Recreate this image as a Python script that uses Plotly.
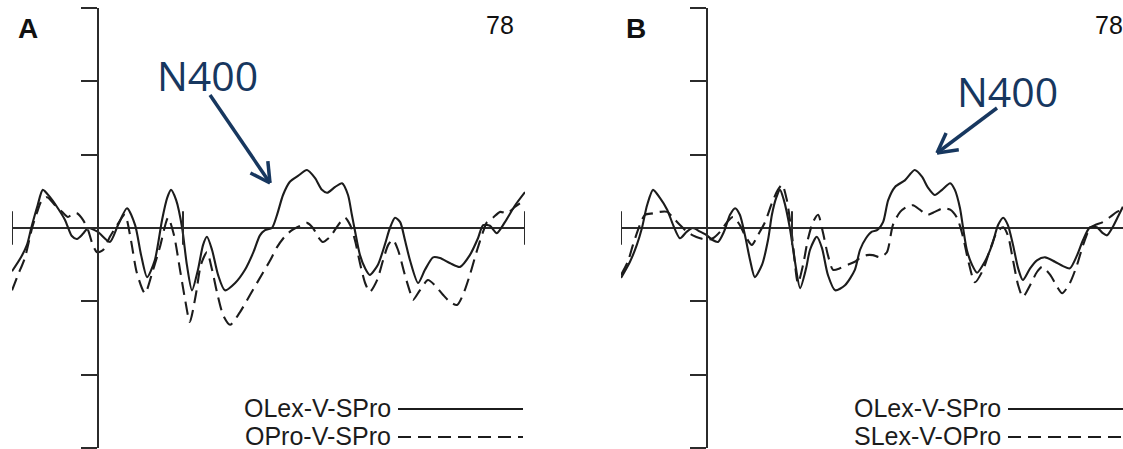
import math
import plotly.graph_objects as go

# ---------------------------------------------------------------
# Grand-average ERP waveforms (electrode 78), negative plotted up.
# Time in ms relative to onset, amplitude in µV.
# ---------------------------------------------------------------

# Panel A: OLex-V-SPro (solid)
t_a_olex = [-200, -180, -165, -155, -140, -128, -111, -95, -76, -60, -48, -34, -22, 0,
            29, 48, 69, 88, 102, 116, 134, 151, 163, 172, 184, 198, 209, 221, 235, 247,
            256, 268, 282, 298, 322, 345, 364, 380, 392, 408, 420, 434, 450, 469, 490,
            509, 525, 537, 556, 572, 586, 595, 602, 614, 626, 637, 656, 672, 684, 696,
            708, 719, 731, 750, 766, 785, 801, 825, 848, 871, 890, 902, 918, 934, 953,
            977, 1000]
v_a_olex = [0.59, 0.41, 0.23, 0.00, -0.31, -0.52, -0.42, -0.29, -0.11, 0.11, 0.15, 0.08, 0.00, 0.05,
            0.19, -0.04, -0.27, -0.04, 0.37, 0.67, 0.44, -0.11, -0.41, -0.52, -0.38, 0.00, 0.50, 0.85, 0.57, 0.23,
            0.12, 0.30, 0.64, 0.85, 0.75, 0.57, 0.34, 0.10, 0.03, 0.00, -0.18, -0.45, -0.63, -0.71, -0.79,
            -0.68, -0.52, -0.48, -0.56, -0.61, -0.45, -0.18, 0.03, 0.37, 0.55, 0.64, 0.50, 0.23, 0.00, -0.14,
            -0.08, 0.16, 0.44, 0.75, 0.57, 0.40, 0.41, 0.48, 0.53, 0.37, 0.14, -0.04, -0.03, 0.07, -0.08,
            -0.31, -0.49]

# Panel A: OPro-V-SPro (dashed)
t_a_opro = [-200, -186, -170, -153, -141, -130, -118, -99, -83, -69, -57, -48, -34, -22, -11, -1,
            13, 29, 46, 64, 78, 92, 111, 130, 146, 165, 179, 193, 205, 216, 230, 242,
            256, 268, 280, 294, 310, 333, 357, 387, 404, 420, 439, 455, 474, 490, 504,
            516, 527, 544, 563, 579, 591, 602, 614, 626, 637, 654, 668, 680, 691, 703,
            719, 731, 738, 754, 773, 789, 808, 825, 841, 855, 871, 888, 902, 911, 925,
            942, 958, 977, 1000]
v_a_opro = [0.85, 0.64, 0.41, 0.00, -0.22, -0.38, -0.42, -0.31, -0.22, -0.15, -0.20, -0.20, -0.11, 0.03, 0.23, 0.33,
            0.30, 0.12, -0.04, -0.18, 0.16, 0.61, 0.89, 0.57, 0.26, -0.14, 0.10, 0.57, 0.98, 1.28, 0.91, 0.50,
            0.33, 0.57, 0.89, 1.19, 1.32, 1.15, 0.91, 0.61, 0.44, 0.26, 0.11, 0.03, -0.03, -0.07, 0.00,
            0.12, 0.19, 0.12, -0.04, -0.14, -0.04, 0.16, 0.48, 0.75, 0.87, 0.71, 0.44, 0.23, 0.16, 0.30,
            0.64, 0.87, 0.98, 0.85, 0.71, 0.78, 0.91, 1.01, 1.05, 0.91, 0.64, 0.30, 0.05, -0.08, -0.14,
            -0.22, -0.20, -0.29, -0.38]

# Panel B: OLex-V-SPro (solid)
t_b_olex = [-200, -179, -163, -151, -139, -125, -109, -92, -78, -62, -46, -32, -15, 1,
            13, 27, 41, 55, 67, 78, 90, 102, 113, 130, 144, 153, 163, 172, 181, 195,
            207, 219, 233, 242, 258, 270, 284, 301, 324, 347, 359, 373, 387, 399, 413,
            425, 441, 464, 487, 504, 518, 534, 551, 570, 581, 593, 600, 609, 621, 633,
            651, 668, 682, 694, 705, 717, 729, 740, 757, 773, 792, 815, 834, 850, 867,
            881, 897, 913, 927, 937, 949, 963, 974]
v_b_olex = [0.68, 0.46, 0.23, 0.00, -0.31, -0.52, -0.41, -0.25, -0.04, 0.14, 0.05, 0.00, 0.05, 0.10,
            0.16, 0.19, 0.05, -0.18, -0.27, -0.18, 0.10, 0.44, 0.67, 0.50, 0.16, -0.18, -0.41, -0.52, -0.38, 0.00,
            0.46, 0.82, 0.55, 0.30, 0.12, 0.27, 0.64, 0.85, 0.78, 0.57, 0.30, 0.14, 0.05, 0.03, -0.08,
            -0.38, -0.56, -0.65, -0.79, -0.70, -0.55, -0.45, -0.52, -0.61, -0.52, -0.27, -0.01, 0.30, 0.50, 0.61,
            0.46, 0.23, -0.04, -0.14, -0.04, 0.23, 0.55, 0.71, 0.55, 0.44, 0.40, 0.46, 0.52, 0.55, 0.37,
            0.16, -0.01, -0.01, 0.07, 0.10, 0.00, -0.16, -0.29]

# Panel B: SLex-V-OPro (dashed)
t_b_slex = [-200, -184, -172, -156, -144, -125, -109, -92, -78, -62, -46, -32, -15, 1,
            15, 32, 48, 62, 78, 90, 106, 120, 137, 153, 167, 177, 188, 200,
            214, 226, 237, 249, 261, 272, 284, 296, 312, 331, 347, 359, 375, 389, 406,
            422, 436, 453, 469, 483, 499, 516, 534, 553, 570, 586, 600, 612, 628,
            647, 663, 680, 694, 705, 717, 729, 740, 757, 773, 785, 804, 820, 832,
            850, 867, 881, 897, 909, 927, 944, 960, 974]
v_b_slex = [0.64, 0.46, 0.23, -0.04, -0.18, -0.20, -0.22, -0.22, -0.14, -0.04, 0.05, 0.10, 0.14, 0.16,
            0.14, 0.05, -0.08, -0.15, -0.04, 0.10, 0.23, 0.10, -0.08, -0.34, -0.52, -0.59, -0.38, 0.10,
            0.75, 0.50, 0.16, -0.08, -0.18, 0.05, 0.37, 0.57, 0.55, 0.50, 0.46, 0.41, 0.37, 0.37, 0.40,
            0.33, -0.04, -0.22, -0.29, -0.31, -0.25, -0.18, -0.22, -0.27, -0.25, -0.14, 0.12, 0.44, 0.74,
            0.57, 0.30, 0.05, -0.01, 0.10, 0.44, 0.78, 0.94, 0.78, 0.60, 0.53, 0.64, 0.80, 0.89,
            0.75, 0.50, 0.23, 0.00, -0.04, -0.08, -0.15, -0.22, -0.25]

# Text shown in each panel
panel_labels = ["A", "B"]
electrode = "78"
component = "N400"
legend_a = ["OLex-V-SPro", "OPro-V-SPro"]
legend_b = ["OLex-V-SPro", "SLex-V-OPro"]
y_ticks = [-3, -2, -1, 0, 1, 2, 3]

# ---------------------------------------------------------------
# Layout helpers (page is 1123 x 449 px)
# ---------------------------------------------------------------
W, H = 1123, 449


def px(x):
    return x / W


def py(y):
    return 1 - y / H


INK = "#1c1c1c"
AXIS = "#2b2b2b"
NAVY = "#17375f"
DASH = "13px,7px"
MS_PER_PX = 1 / 0.4275
SANS = "Liberation Sans, Arial, sans-serif"

fig = go.Figure()

# waveforms
for xa, ya, t, v, dash in [
    ("x", "y", t_a_olex, v_a_olex, "solid"),
    ("x", "y", t_a_opro, v_a_opro, DASH),
    ("x2", "y2", t_b_olex, v_b_olex, "solid"),
    ("x2", "y2", t_b_slex, v_b_slex, DASH),
]:
    fig.add_trace(go.Scatter(
        x=t, y=v, xaxis=xa, yaxis=ya, mode="lines",
        line=dict(color=INK, width=2.1, dash=dash, shape="spline", smoothing=0.7),
        showlegend=False, hoverinfo="skip",
    ))

# axes: time axis hidden, amplitude axis drawn at t = 0 (negative up)
y_dom = [1 - 448 / H, 1 - 8 / H]
axis_y = dict(
    domain=y_dom, range=[3, -3], anchor="free",
    showline=True, linecolor=AXIS, linewidth=2,
    ticks="outside", ticklen=16, tickwidth=2, tickcolor=AXIS,
    tickvals=y_ticks, showticklabels=False, showgrid=False,
    zeroline=True, zerolinecolor=AXIS, zerolinewidth=2,
)
axis_x = dict(visible=False, showgrid=False, zeroline=False)

a_left, a_right = 12, 525
b_left = 621
b_end_ms = -200 + (W - b_left) * MS_PER_PX

fig.update_layout(
    width=W, height=H,
    margin=dict(l=0, r=0, t=0, b=0),
    paper_bgcolor="white", plot_bgcolor="rgba(0,0,0,0)",
    xaxis=dict(axis_x, domain=[px(a_left), px(a_right)], range=[-200, 1000], anchor="y"),
    yaxis=dict(axis_y, position=px(97.5)),
    xaxis2=dict(axis_x, domain=[px(b_left), 1], range=[-200, b_end_ms], anchor="y2"),
    yaxis2=dict(axis_y, position=px(706.5)),
)

# end bars of the time axis and the 200 ms marker
shapes = []
for xr, yr in [("x", "y"), ("x2", "y2")]:
    for m in [-200, 200, 1000]:
        shapes.append(dict(type="line", xref=xr, yref=yr, x0=m, x1=m, y0=-0.23, y1=0.23,
                           line=dict(color=AXIS, width=2)))

# legend samples (text followed by a line)
LEG_FONT = dict(family=SANS, size=25, color=INK)
annotations = []
for labels, text_right, line_x0, line_x1 in [
    (legend_a, 393, 398, 523),
    (legend_b, 1003, 1008, 1140),
]:
    for row, (label, dash, yc) in enumerate(zip(labels, ["solid", DASH], [408, 436])):
        annotations.append(dict(text=label, x=px(text_right), y=py(yc), xref="paper", yref="paper",
                                xanchor="right", yanchor="middle", showarrow=False, font=LEG_FONT))
        shapes.append(dict(type="line", xref="paper", yref="paper",
                           x0=px(line_x0), x1=px(line_x1), y0=py(yc + 1), y1=py(yc + 1),
                           line=dict(color=INK, width=2, dash=dash)))

# panel letters and electrode number
for label, xc in zip(panel_labels, [27.5, 636]):
    annotations.append(dict(text=f"<b>{label}</b>", x=px(xc), y=py(29), xref="paper", yref="paper",
                            xanchor="center", yanchor="middle", showarrow=False,
                            font=dict(family=SANS, size=28, color="#111")))
for xc in [500, 1109]:
    annotations.append(dict(text=electrode, x=px(xc), y=py(25), xref="paper", yref="paper",
                            xanchor="center", yanchor="middle", showarrow=False,
                            font=dict(family=SANS, size=25, color="#111")))

# N400 call-outs with open arrowheads
for (tx, ty), (x0, y0), (x1, y1) in [
    ((207, 75), (210, 95), (270, 183)),
    ((1008, 91), (997, 108), (937, 153)),
]:
    annotations.append(dict(text=component, x=px(tx), y=py(ty), xref="paper", yref="paper",
                            xanchor="center", yanchor="middle", showarrow=False,
                            font=dict(family="Open Sans, sans-serif", size=41, color=NAVY)))
    shapes.append(dict(type="line", xref="paper", yref="paper",
                       x0=px(x0), y0=py(y0), x1=px(x1), y1=py(y1),
                       line=dict(color=NAVY, width=3.5)))
    ang = math.atan2(y0 - y1, x0 - x1)
    for d in (-0.5, 0.5):
        wx = x1 + 22 * math.cos(ang + d)
        wy = y1 + 22 * math.sin(ang + d)
        shapes.append(dict(type="line", xref="paper", yref="paper",
                           x0=px(x1), y0=py(y1), x1=px(wx), y1=py(wy),
                           line=dict(color=NAVY, width=3.5)))

fig.update_layout(shapes=shapes, annotations=annotations)

fig.write_html("out.html")
